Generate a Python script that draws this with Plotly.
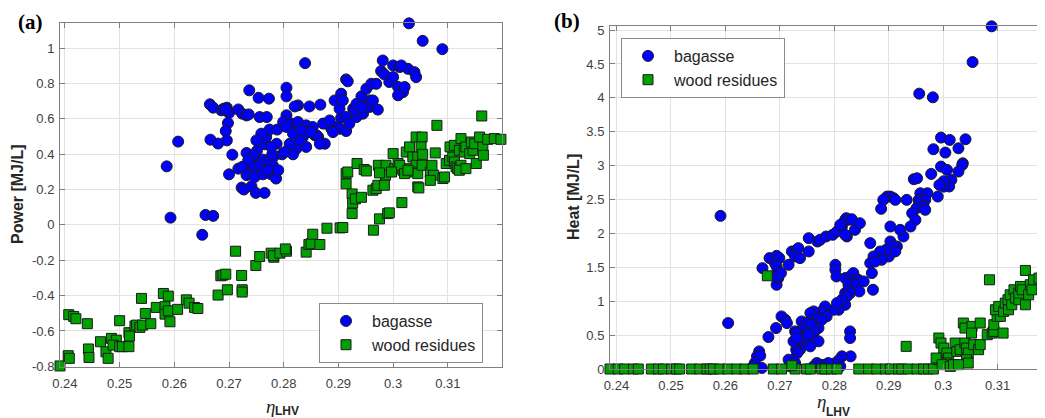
import plotly.graph_objects as go

# ---------------- data ----------------
A_BAG_X = [0.3029,0.3054,0.3090,0.2839,0.2586,0.2593,0.2607,0.2651,0.2657,0.2671,
           0.2665,0.2671,0.2686,0.2690,0.2696,0.2700,0.2694,0.2717,0.2724,0.2732,
           0.2736,0.2737,0.2754,0.2773,0.2805,0.2805,0.2756,0.2769,0.2698,0.2694,
           0.2696,0.2666,0.2680,0.2706,0.2700,0.2717,0.2732,0.2744,0.2738,0.2747,
           0.2756,0.2763,0.2772,0.2782,0.2751,0.2723,0.2727,0.2741,0.2749,0.2765,
           0.2732,0.2747,0.2762,0.2777,0.2786,0.2779,0.2765,0.2768,0.2774,0.2797,
           0.2788,0.2805,0.2799,0.2814,0.2826,0.2841,0.2846,0.2857,0.2863,0.2823,
           0.2835,0.2841,0.2823,0.2817,0.2826,0.2847,0.2867,0.2820,0.2875,0.2878,
           0.2887,0.2896,0.2903,0.2914,0.2905,0.2902,0.2914,0.2927,0.2933,0.2945,
           0.2957,0.2942,0.2951,0.2960,0.2969,0.2957,0.2972,0.2981,0.2978,0.2984,
           0.3000,0.3012,0.3027,0.3039,0.3042,0.2993,0.3009,0.3018,0.3009,0.2914,
           0.2905,0.2893,0.2872,0.2860,0.2917,0.2908,0.2920,0.2930,0.2951,0.2963,
           0.3015,0.3021,0.3000,0.2805,0.2829,0.2811,0.2853,0.2866,0.2890,0.2787,
           0.2802,0.2780,0.2771,0.2786,0.2790,0.2759,0.2744,0.2735,0.2724,0.2750,
           0.2777,0.2817,0.2832,0.2850,0.2884,0.2933,0.2942]
A_BAG_Y = [1.140,1.041,0.994,0.915,0.331,0.041,0.471,-0.056,0.056,0.051,
           0.682,0.663,0.648,0.657,0.663,0.633,0.652,0.653,0.629,0.619,
           0.625,0.761,0.719,0.714,0.776,0.727,0.610,0.610,0.576,0.531,
           0.478,0.482,0.460,0.397,0.286,0.318,0.407,0.375,0.331,0.328,
           0.337,0.369,0.365,0.388,0.418,0.211,0.200,0.218,0.181,0.181,
           0.281,0.271,0.286,0.286,0.299,0.399,0.456,0.497,0.539,0.399,
           0.539,0.620,0.582,0.573,0.582,0.563,0.525,0.507,0.497,0.525,
           0.497,0.441,0.431,0.399,0.676,0.670,0.680,0.670,0.459,0.573,
           0.544,0.554,0.544,0.531,0.606,0.657,0.610,0.657,0.610,0.629,
           0.667,0.727,0.770,0.798,0.798,0.704,0.652,0.930,0.870,0.851,
           0.902,0.893,0.883,0.864,0.836,0.808,0.780,0.751,0.733,0.823,
           0.742,0.704,0.573,0.507,0.812,0.704,0.573,0.648,0.667,0.704,
           0.902,0.780,0.836,0.554,0.478,0.459,0.554,0.459,0.525,0.459,
           0.412,0.337,0.309,0.262,0.309,0.516,0.394,0.365,0.328,0.478,
           0.441,0.516,0.535,0.525,0.591,0.685,0.667]

A_WOOD_X = [0.2391,0.2406,0.2408,0.2407,0.2416,0.2420,0.2441,0.2443,0.2444,0.2465,
            0.2475,0.2479,0.2485,0.2494,0.2488,0.2500,0.2500,0.2505,0.2517,0.2517,
            0.2518,0.2528,0.2531,0.2537,0.2542,0.2540,0.2547,0.2557,0.2567,0.2580,
            0.2589,0.2583,0.2583,0.2589,0.2592,0.2606,0.2622,0.2627,0.2637,0.2643,
            0.2685,0.2689,0.2694,0.2680,0.2697,0.2712,0.2723,0.2724,0.2724,0.2749,
            0.2756,0.2777,0.2782,0.2781,0.2793,0.2805,0.2803,0.2841,0.2846,0.2850,
            0.2853,0.2866,0.2879,0.2903,0.2908,0.2914,0.2917,0.2914,0.2925,0.2926,
            0.2925,0.2931,0.2942,0.2934,0.2947,0.2951,0.2963,0.2969,0.2964,0.2973,
            0.2972,0.2975,0.2990,0.2993,0.2987,0.2986,0.2984,0.3000,0.3003,0.3009,
            0.3018,0.3012,0.3016,0.3024,0.3030,0.3036,0.3030,0.3042,0.3045,0.3042,
            0.3039,0.3053,0.3051,0.3054,0.3045,0.3047,0.3045,0.3053,0.3068,0.3074,
            0.3077,0.3071,0.3068,0.3080,0.3091,0.3094,0.3097,0.3103,0.3109,0.3112,
            0.3115,0.3118,0.3124,0.3121,0.3104,0.3112,0.3124,0.3121,0.3130,0.3133,
            0.3140,0.3146,0.3143,0.3149,0.3133,0.3152,0.3164,0.3165,0.3158,0.3162,
            0.3173,0.3185,0.3197,0.2975,0.2997,0.3021,0.3027]
A_WOOD_Y = [-0.798,-0.740,-0.755,-0.508,-0.518,-0.531,-0.559,-0.702,-0.750,-0.661,
            -0.718,-0.755,-0.642,-0.652,-0.680,-0.542,-0.689,-0.689,-0.610,-0.689,
            -0.629,-0.572,-0.567,-0.580,-0.567,-0.416,-0.501,-0.559,-0.467,-0.388,
            -0.403,-0.463,-0.505,-0.486,-0.548,-0.478,-0.424,-0.443,-0.467,-0.473,
            -0.288,-0.284,-0.279,-0.397,-0.367,-0.149,-0.286,-0.367,-0.380,-0.230,
            -0.179,-0.160,-0.183,-0.174,-0.160,-0.149,-0.136,-0.154,-0.111,-0.107,
            -0.053,-0.111,-0.019,-0.017,-0.015,0.290,0.299,0.232,0.175,0.124,
            0.064,0.147,0.156,0.347,0.313,0.305,0.196,0.205,-0.030,0.337,
            0.224,0.034,0.064,0.068,0.337,0.281,0.224,0.403,0.318,0.347,
            0.309,0.337,0.126,0.412,0.441,0.384,0.318,0.497,0.384,0.337,
            0.299,0.497,0.441,0.399,0.215,0.209,0.290,0.337,0.299,0.281,
            0.407,0.337,0.252,0.563,0.262,0.271,0.347,0.365,0.384,0.356,
            0.328,0.318,0.337,0.309,0.441,0.450,0.488,0.422,0.412,0.441,
            0.403,0.422,0.469,0.459,0.318,0.347,0.441,0.394,0.497,0.616,
            0.484,0.488,0.484,0.294,0.299,0.290,0.309]

B_BAG_X = [0.3089,0.3054,0.2956,0.2981,0.2591,0.2605,0.2996,0.3012,0.3041,0.2982,
           0.3004,0.3028,0.3036,0.3035,0.2996,0.2978,0.2946,0.2952,0.3007,0.3015,
           0.3011,0.2990,0.3001,0.3001,0.3028,0.2993,0.2958,0.2971,0.2967,0.2955,
           0.2956,0.2951,0.2964,0.2967,0.2933,0.2943,0.2949,0.2940,0.2927,0.2921,
           0.2915,0.2909,0.2903,0.2897,0.2903,0.2909,0.2890,0.2886,0.2912,0.2903,
           0.2903,0.2909,0.2900,0.2912,0.2895,0.2884,0.2887,0.2866,0.2872,0.2866,
           0.2875,0.2869,0.2871,0.2668,0.2681,0.2694,0.2699,0.2691,0.2694,0.2697,
           0.2694,0.2697,0.2694,0.2702,0.2716,0.2722,0.2731,0.2734,0.2728,0.2737,
           0.2753,0.2753,0.2769,0.2774,0.2785,0.2797,0.2805,0.2814,0.2820,0.2822,
           0.2826,0.2832,0.2823,0.2820,0.2838,0.2847,0.2811,0.2802,0.2802,0.2804,
           0.2820,0.2829,0.2835,0.2838,0.2844,0.2826,0.2840,0.2846,0.2854,0.2820,
           0.2826,0.2829,0.2823,0.2820,0.2814,0.2808,0.2799,0.2805,0.2783,0.2777,
           0.2786,0.2762,0.2756,0.2759,0.2771,0.2777,0.2771,0.2740,0.2746,0.2749,
           0.2740,0.2762,0.2757,0.2762,0.2765,0.2771,0.2750,0.2746,0.2756,0.2743,
           0.2752,0.2728,0.2730,0.2734,0.2737,0.2730,0.2732,0.2725,0.2719,0.2716,
           0.2703,0.2710,0.2713,0.2693,0.2679,0.2662,0.2658,0.2664,0.2654,0.2651,
           0.2667,0.2829,0.2829,0.2830,0.2814,0.2808,0.2802,0.2811,0.2799,0.2783,
           0.2789,0.2774,0.2768,0.2762,0.2771,0.2719,0.2725,0.2728,0.2725,0.2731]
B_BAG_Y = [5.055,4.528,4.062,4.008,2.259,0.678,3.414,3.379,3.389,3.242,
           3.193,3.256,3.035,3.011,2.986,2.878,2.800,2.814,2.937,2.790,
           2.692,2.544,2.690,2.770,2.913,2.716,2.593,2.593,2.495,2.495,
           2.446,2.372,2.397,2.348,2.495,2.299,2.200,2.102,1.955,2.053,
           1.808,1.758,1.709,2.544,2.544,2.520,2.495,2.363,2.495,2.102,
           1.881,1.808,1.660,1.734,1.758,1.734,1.611,1.857,1.660,1.562,
           1.586,1.415,1.169,1.488,1.636,1.670,1.636,1.562,1.513,1.439,
           1.243,1.341,1.365,1.415,1.537,1.734,1.758,1.783,1.660,1.636,
           1.734,1.930,1.881,1.906,1.955,1.980,2.028,2.102,2.200,2.225,
           2.200,2.210,1.955,1.980,2.053,2.151,2.127,1.537,1.464,1.365,
           1.341,1.365,1.415,1.316,1.316,1.243,1.243,1.144,1.292,1.120,
           1.169,1.120,1.071,0.948,1.022,0.874,0.874,0.973,0.923,0.850,
           0.776,0.850,0.825,0.727,0.751,0.727,0.604,0.702,0.604,0.678,
           0.579,0.629,0.653,0.530,0.432,0.408,0.530,0.383,0.334,0.481,
           0.506,0.555,0.530,0.359,0.285,0.285,0.236,0.138,0.113,0.138,
           0.776,0.727,0.678,0.604,0.471,0.260,0.187,0.196,0.088,0.039,
           0.015,0.555,0.457,0.187,0.187,0.128,0.039,0.039,0.079,0.064,
           0.088,0.064,0.088,0.039,0.039,0.039,0.064,0.088,0.408,0.457]

B_WOOD_X = [0.2388,0.2403,0.2415,0.2431,0.2440,0.2464,0.2477,0.2486,0.2501,0.2510,
            0.2516,0.2538,0.2553,0.2566,0.2572,0.2578,0.2590,0.2605,0.2621,0.2636,
            0.2651,0.2688,0.2703,0.2728,0.2749,0.2756,0.2777,0.2783,0.2795,0.2805,
            0.2845,0.2863,0.2878,0.2894,0.2903,0.2918,0.2924,0.2936,0.2952,0.2964,
            0.2973,0.2982,
            0.2677,0.2722,0.2932,0.3085,0.3151,
            0.2992,0.2996,0.3001,0.2992,0.2987,0.3007,0.3010,0.3007,0.2998,0.3013,
            0.3019,0.3022,0.3025,0.3031,0.3040,0.3043,0.3046,0.3043,0.3046,0.3028,
            0.3037,0.3040,0.3053,0.3068,0.3052,0.3056,0.3065,0.3068,0.3081,0.3090,
            0.3093,0.3093,0.3099,0.3105,0.3096,0.3102,0.3111,0.3110,0.3114,0.3119,
            0.3123,0.3120,0.3126,0.3130,0.3133,0.3139,0.3139,0.3142,0.3145,0.3151,
            0.3157,0.3160,0.3163,0.3166,0.3176,0.3182,0.3186]
B_WOOD_Y = [0]*42 + [
            1.375,0.049,0.334,1.316,1.454,
            0.457,0.383,0.309,0.138,0.162,0.236,0.162,0.088,0.064,0.039,
            0.064,0.383,0.260,0.285,0.383,0.309,0.236,0.138,0.088,0.064,
            0.678,0.604,0.629,0.678,0.530,0.359,0.285,0.359,0.506,0.530,
            0.555,0.653,0.776,0.776,0.874,0.923,0.850,0.530,0.972,1.022,
            1.095,0.874,0.948,1.169,1.046,1.022,1.120,1.218,1.169,0.948,
            1.095,1.243,1.169,1.316,1.341,1.365,1.400]

X_TICKS = [0.24, 0.25, 0.26, 0.27, 0.28, 0.29, 0.30, 0.31]
X_TICK_TEXT = ["0.24", "0.25", "0.26", "0.27", "0.28", "0.29", "0.3", "0.31"]
A_Y_TICKS = [-0.8, -0.6, -0.4, -0.2, 0, 0.2, 0.4, 0.6, 0.8, 1]
A_Y_TICK_TEXT = ["-0.8", "-0.6", "-0.4", "-0.2", "0", "0.2", "0.4", "0.6", "0.8", "1"]
B_Y_TICKS = [0, 0.5, 1, 1.5, 2, 2.5, 3, 3.5, 4, 4.5, 5]
B_Y_TICK_TEXT = ["0", "0.5", "1", "1.5", "2", "2.5", "3", "3.5", "4", "4.5", "5"]

# ---------------- layout geometry ----------------
# the page body has an 8px margin, so the figure is drawn 8px in from the corner
OFF = 8
W, H = 1045 - OFF, 418 - OFF


def px(sx):
    return (sx - OFF) / W


def py(sy):
    return 1 - (sy - OFF) / H


BLUE = "#0000ff"
GREEN = "#00a000"
EDGE = "#1a1a1a"
AXC = "#808080"
GRID = "#e2e2e2"
TICKFONT = dict(family="Liberation Sans, Arial", size=13, color="#404040")


def bag(x, y, xa, ya, leg):
    return go.Scatter(x=x, y=y, xaxis=xa, yaxis=ya, mode="markers", name="bagasse",
                      legend=leg, cliponaxis=False, hoverinfo="skip",
                      marker=dict(symbol="circle", size=11, color=BLUE,
                                  line=dict(color=EDGE, width=1)))


def wood(x, y, xa, ya, leg):
    return go.Scatter(x=x, y=y, xaxis=xa, yaxis=ya, mode="markers", name="wood residues",
                      legend=leg, cliponaxis=False, hoverinfo="skip",
                      marker=dict(symbol="square", size=10, color=GREEN,
                                  line=dict(color=EDGE, width=1)))


fig = go.Figure()
fig.add_trace(bag(A_BAG_X, A_BAG_Y, "x", "y", "legend"))
fig.add_trace(wood(A_WOOD_X, A_WOOD_Y, "x", "y", "legend"))
fig.add_trace(bag(B_BAG_X, B_BAG_Y, "x2", "y2", "legend2"))
fig.add_trace(wood(B_WOOD_X, B_WOOD_Y, "x2", "y2", "legend2"))

axis_common = dict(showline=True, linecolor=AXC, linewidth=1, showgrid=True,
                   gridcolor=GRID, gridwidth=1, zeroline=False, ticks="inside",
                   ticklen=5, tickcolor=AXC, tickfont=TICKFONT, fixedrange=True,
                   automargin=False)

legend_common = dict(bgcolor="white", bordercolor="#8a8a8a", borderwidth=1,
                     font=dict(family="Liberation Sans, Arial", size=16, color="#262626"),
                     xanchor="left", yanchor="top", itemwidth=42,
                     tracegroupgap=0)

fig.update_layout(
    template="none",
    width=W, height=H, margin=dict(l=0, r=0, t=0, b=0, pad=0, autoexpand=False),
    paper_bgcolor="white", plot_bgcolor="white", showlegend=True,
    xaxis=dict(domain=[px(60), px(502)], range=[0.2391, 0.3199], tickvals=X_TICKS,
               ticktext=X_TICK_TEXT, mirror="ticks", anchor="y",
               ticklabelstandoff=4, **axis_common),
    yaxis=dict(domain=[py(367), py(23)], range=[-0.804, 1.142], tickvals=A_Y_TICKS,
               ticktext=A_Y_TICK_TEXT, mirror="ticks", anchor="x",
               ticklabelstandoff=2, **axis_common),
    xaxis2=dict(domain=[px(610), 1.0], range=[0.2388, 0.3187], tickvals=X_TICKS,
                ticktext=X_TICK_TEXT, mirror="ticks", anchor="y2",
                ticklabelstandoff=4, **axis_common),
    yaxis2=dict(domain=[py(369), py(26)], range=[0, 5.06], tickvals=B_Y_TICKS,
                ticktext=B_Y_TICK_TEXT, mirror=False, anchor="x2",
                ticklabelstandoff=2, **axis_common),
    legend=dict(x=px(319), y=py(303), **legend_common),
    legend2=dict(x=px(621), y=py(38), **legend_common),
)

TITLE_FONT = dict(family="Liberation Sans, Arial", size=16, color="#262626")
ETA_FONT = dict(family="Liberation Serif, Times New Roman", size=19, color="#262626")
SUB_FONT = dict(family="Liberation Sans, Arial", size=12, color="#262626")
ann = [
    dict(text="<b>Power [MJ/L]</b>", x=px(18), y=py(194), textangle=-90, font=TITLE_FONT),
    dict(text="<b>Heat [MJ/L]</b>", x=px(573), y=py(197), textangle=-90, font=TITLE_FONT),
    dict(text="<i>η</i>", x=px(270), y=py(406), font=ETA_FONT),
    dict(text="<b>LHV</b>", x=px(287), y=py(411), font=SUB_FONT),
    dict(text="<i>η</i>", x=px(821), y=py(401), font=ETA_FONT),
    dict(text="<b>LHV</b>", x=px(838), y=py(412), font=SUB_FONT),
    dict(text="<b>(a)</b>", x=px(30), y=py(22),
         font=dict(family="Liberation Serif, Times New Roman", size=21, color="black")),
    dict(text="<b>(b)</b>", x=px(567), y=py(21),
         font=dict(family="Liberation Serif, Times New Roman", size=21, color="black")),
]
for a in ann:
    a.update(xref="paper", yref="paper", showarrow=False, xanchor="center", yanchor="middle")
fig.update_layout(annotations=ann)

fig.write_html("out.html")
